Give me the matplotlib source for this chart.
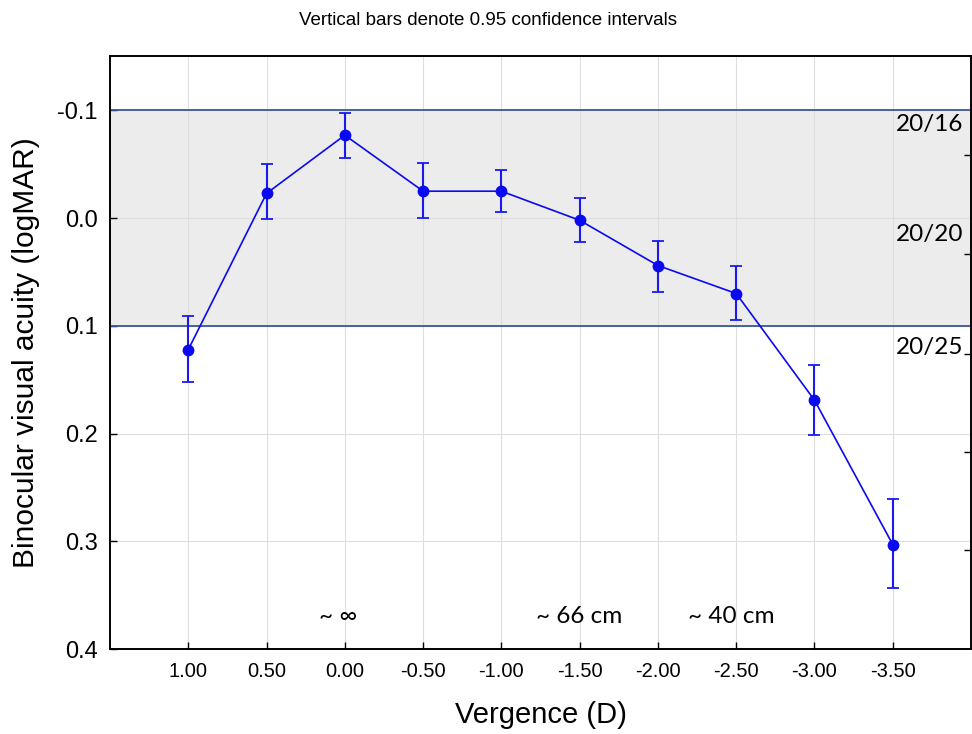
import matplotlib
matplotlib.use("Agg")
import matplotlib.pyplot as plt

vergence = [1.0, 0.5, 0.0, -0.5, -1.0, -1.5, -2.0, -2.5, -3.0, -3.5]
logmar = [0.122, -0.023, -0.077, -0.025, -0.025, 0.002, 0.044, 0.070, 0.169, 0.303]
ci_low = [0.091, -0.050, -0.098, -0.051, -0.045, -0.019, 0.021, 0.044, 0.136, 0.261]
ci_high = [0.152, 0.001, -0.056, 0.000, -0.006, 0.022, 0.069, 0.095, 0.201, 0.343]
xtick_vals = [1.0, 0.5, 0.0, -0.5, -1.0, -1.5, -2.0, -2.5, -3.0, -3.5]
xtick_labels = ["1.00", "0.50", "0.00", "-0.50", "-1.00", "-1.50", "-2.00", "-2.50", "-3.00", "-3.50"]
ytick_vals = [-0.1, 0.0, 0.1, 0.2, 0.3, 0.4]
ytick_labels = ["-0.1", "0.0", "0.1", "0.2", "0.3", "0.4"]
snellen_labels = ["20/16", "20/20", "20/25"]
snellen_y = [-0.087, 0.015, 0.120]
right_ticks = [-0.059, 0.033, 0.126, 0.217, 0.308]
dist_labels = ["~ \u221e", "~ 66 cm", "~ 40 cm"]
dist_x = [0.045, -1.497, -2.47]

plt.rcParams['font.family'] = ['Liberation Sans', 'DejaVu Sans']

fig = plt.figure(figsize=(9.72, 7.34), dpi=100)
ax = fig.add_axes([0.1132, 0.1158, 0.8858, 0.8079])

ax.set_xlim(1.5, -4.0)
ax.set_ylim(0.4, -0.1505)

ax.axhspan(-0.1, 0.1, color='#ececec', zorder=0)
ax.axhline(-0.1, color='#3a5894', lw=1.3, zorder=1)
ax.axhline(0.1, color='#3a5894', lw=1.3, zorder=1)

ax.set_xticks(xtick_vals)
ax.set_xticklabels(xtick_labels, fontsize=14.5)
ax.set_yticks(ytick_vals)
ax.set_yticklabels(ytick_labels, fontsize=17)
ax.grid(True, color='#dedede', lw=0.8, zorder=0.5)
ax.set_axisbelow(True)

yerr = [[m - lo for m, lo in zip(logmar, ci_low)], [hi - m for m, hi in zip(logmar, ci_high)]]
ax.errorbar(vergence, logmar, yerr=yerr, color='#0a0aee', ecolor='#1a1aee', lw=1.2,
            elinewidth=1.5, capsize=4, capthick=1.3, marker='o', markersize=7.5, zorder=3)

for lab, yv in zip(snellen_labels, snellen_y):
    ax.text(-3.95, yv, lab, ha='right', va='center', fontsize=17.5, family=['Lato', 'DejaVu Sans'])
for lab, xv in zip(dist_labels, dist_x):
    ax.text(xv, 0.370, lab, ha='center', va='center', fontsize=17.5, family=['Lato', 'DejaVu Sans'])

ax.tick_params(axis='both', direction='in', length=5, width=1.0, colors='black')
ax.tick_params(axis='x', pad=9)
ax.tick_params(axis='y', pad=9)
for s in ax.spines.values():
    s.set_linewidth(1.2)
    s.set_color('black')

ax2 = ax.twinx()
ax2.set_ylim(ax.get_ylim())
ax2.set_yticks(right_ticks)
ax2.set_yticklabels([])
ax2.tick_params(axis='y', direction='in', length=5, width=1.0)
for s in ax2.spines.values():
    s.set_linewidth(1.2)

ax.set_xlabel("Vergence (D)", fontsize=21, labelpad=15)
ax.set_ylabel("Binocular visual acuity (logMAR)", fontsize=21.5, labelpad=12)
fig.text(0.502, 0.972, "Vertical bars denote 0.95 confidence intervals", ha='center', va='center', fontsize=13.5)

fig.savefig("out.png", dpi=100)
